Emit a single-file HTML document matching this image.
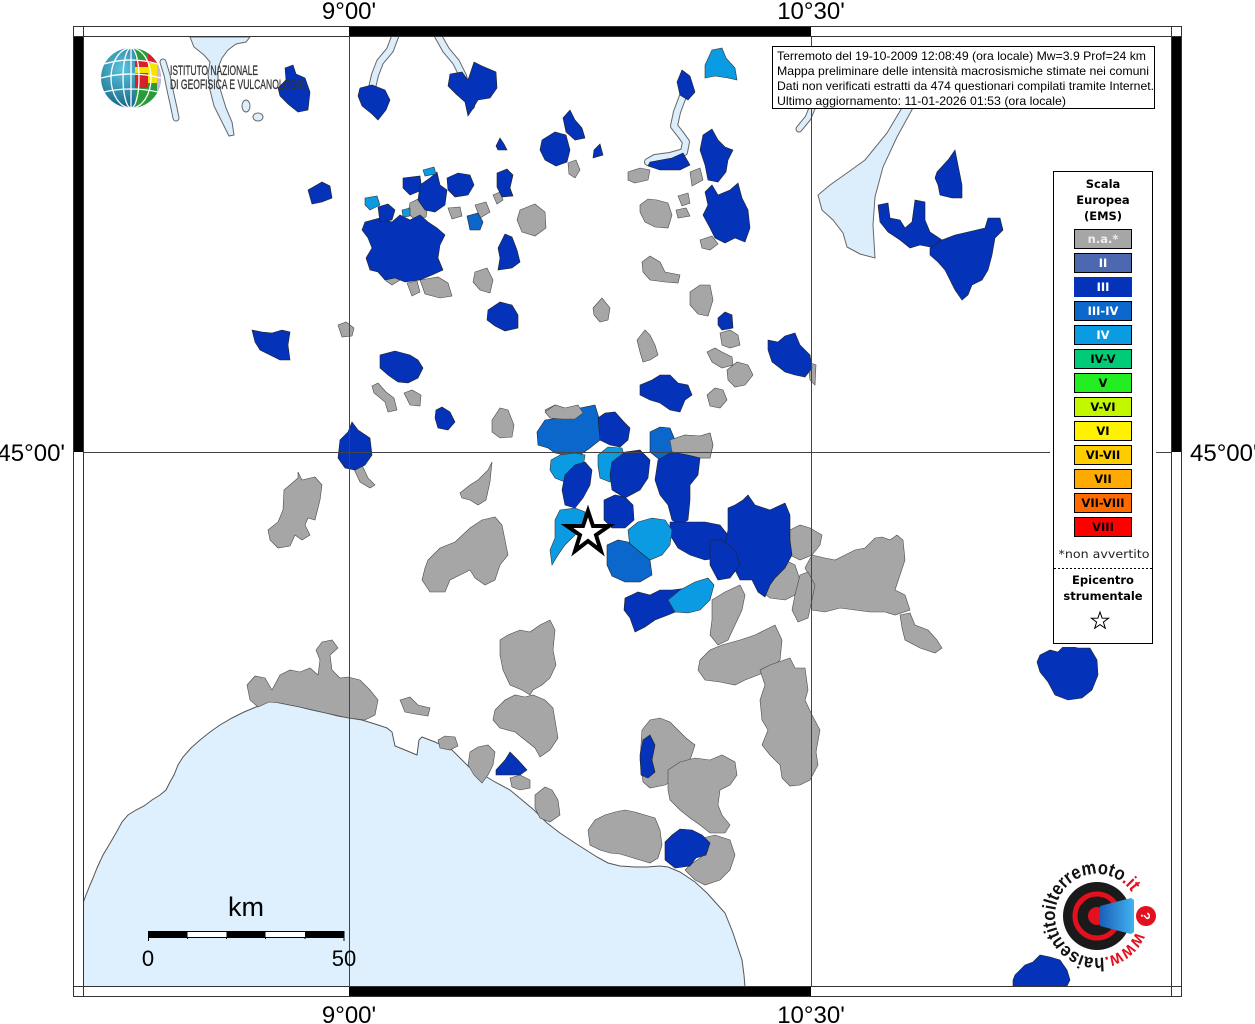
<!DOCTYPE html>
<html><head><meta charset="utf-8"><style>
html,body{margin:0;padding:0;background:#fff;}
svg{display:block;}
.g{fill:#a6a6a6;stroke:#4a4a4a;stroke-width:.6}
.b{fill:#0433b9;stroke:#222;stroke-width:.6}
.m{fill:#0b67cc;stroke:#222;stroke-width:.6}
.l{fill:#0b9be3;stroke:#333;stroke-width:.6}
.lk{fill:#dcedfb;stroke:#666;stroke-width:1}
.tk{font-family:"Liberation Sans",sans-serif;font-size:24px;fill:#000}
.lg{font-family:"DejaVu Sans","Liberation Sans",sans-serif;font-weight:bold;font-size:11.5px;text-anchor:middle}
</style></head><body>
<svg width="1255" height="1024" viewBox="0 0 1255 1024" xmlns="http://www.w3.org/2000/svg">
<defs>
<clipPath id="mc"><rect x="83.5" y="36.5" width="1088" height="950"/></clipPath>
<clipPath id="gc"><circle cx="131" cy="78" r="30"/></clipPath>
<radialGradient id="gg" cx="0.35" cy="0.35" r="0.75"><stop offset="0" stop-color="#5cc4de"/><stop offset="1" stop-color="#0a5a7a"/></radialGradient>
<linearGradient id="cone" x1="0" y1="0" x2="1" y2="0"><stop offset="0" stop-color="#1b5fb8"/><stop offset="1" stop-color="#3fb4f0"/></linearGradient>
</defs>
<rect width="1255" height="1024" fill="#fff"/>

<g clip-path="url(#mc)">
<polygon fill="#def0fd" stroke="#555" stroke-width="1" points="83,903 86,895 90,885 93,878 97,868 103,855 109,845 116,833 122,822 128,815 136,810 144,806 152,800 160,795 166,790 170,782 174,775 178,765 183,757 191,748 200,740 210,732 220,725 232,718 244,712 256,707 264,703 270,701 280,703 290,705 300,707 312,710 326,713 338,716 349,718 362,720 375,724 387,728 392,732 395,746 405,750 417,755 419,740 422,737 435,742 452,750 462,760 469,767 480,773 495,782 510,790 522,800 534,810 547,823 560,833 575,843 586,850 597,857 608,863 620,866 635,867 647,867 660,866 668,867 680,872 695,882 707,893 716,903 725,913 733,933 738,948 742,960 744,975 745,987 745,995 75,995 75,903"/>

<polygon class="lk" points="190,37 250,37 246,42 236,44 228,50 222,58 218,68 218,82 222,95 226,108 232,122 234,135 229,136 222,122 214,106 210,90 208,74 210,62 204,55 194,47"/>
<g fill="none" stroke-linecap="round" stroke-linejoin="round">
<path d="M163,62 L167,75 L170,90 L174,108 L176,118" stroke="#666" stroke-width="7"/>
<path d="M163,62 L167,75 L170,90 L174,108 L176,118" stroke="#dcedfb" stroke-width="5"/>
<path d="M396,34 L390,50 L380,62 L375,75 L372,88" stroke="#666" stroke-width="8"/>
<path d="M396,34 L390,50 L380,62 L375,75 L372,88" stroke="#dcedfb" stroke-width="6"/>
<path d="M437,34 L446,50 L456,62 L463,76 L467,92 L471,106" stroke="#666" stroke-width="8"/>
<path d="M437,34 L446,50 L456,62 L463,76 L467,92 L471,106" stroke="#dcedfb" stroke-width="6"/>
<path d="M683,96 L677,112 L674,126 L681,135 L686,142 L684,152 L670,156 L655,158 L648,162" stroke="#666" stroke-width="8"/>
<path d="M683,96 L677,112 L674,126 L681,135 L686,142 L684,152 L670,156 L655,158 L648,162" stroke="#dcedfb" stroke-width="6"/>
<path d="M813,106 L808,118 L799,129" stroke="#666" stroke-width="7"/>
<path d="M813,106 L808,118 L799,129" stroke="#dcedfb" stroke-width="5"/>
</g>
<ellipse class="lk" cx="246" cy="106" rx="4" ry="6"/>
<ellipse class="lk" cx="258" cy="117" rx="5" ry="4"/>
<polygon class="lk" points="903,106 914,106 897,137 883,167 875,197 873,225 875,258 860,254 847,247 843,233 833,220 822,210 818,195 830,185 847,173 865,160 887,133"/>

<g class="g">
<polygon points="568,163 576,160 580,170 575,178 569,174"/>
<polygon points="628,172 640,168 650,170 648,180 635,183 628,180"/>
<polygon points="690,172 700,168 703,180 692,186"/>
<polygon points="700,240 712,236 718,244 710,250 702,248"/>
<polygon points="640,205 648,199 657,200 668,203 672,215 668,228 655,227 645,222 640,212"/>
<polygon points="678,196 688,193 690,203 682,206"/>
<polygon points="676,210 686,208 690,216 678,218"/>
<polygon points="642,262 650,256 660,262 665,272 680,275 678,283 665,282 650,280 643,272"/>
<polygon points="690,292 700,285 710,285 713,300 708,316 698,314 690,305"/>
<polygon points="593,308 602,298 610,308 608,320 600,322 594,315"/>
<polygon points="410,203 420,198 428,205 426,217 415,220 408,213"/>
<polygon points="448,208 460,207 462,216 452,219"/>
<polygon points="475,205 486,202 490,212 480,218"/>
<polygon points="493,195 500,192 503,200 497,204"/>
<polygon points="520,210 535,204 545,212 546,228 535,236 522,232 517,220"/>
<polygon points="475,272 487,268 493,280 490,293 480,290 473,282"/>
<polygon points="420,280 438,277 448,283 452,296 440,298 425,294"/>
<polygon points="407,283 417,281 420,292 412,296"/>
<polygon points="385,273 396,271 400,280 392,285 386,281"/>
<polygon points="338,325 346,322 354,328 352,336 342,337"/>
<polygon points="372,386 378,383 386,392 394,398 397,410 388,412 385,402 374,393"/>
<polygon points="404,393 412,390 421,395 420,406 410,405"/>
<polygon points="492,420 500,408 508,410 514,425 512,437 500,438 492,432"/>
<polygon points="353,467 362,465 368,478 375,485 370,488 360,482"/>
<polygon points="284,490 298,478 298,472 302,480 315,477 322,485 320,500 315,520 308,518 305,525 310,535 302,540 295,535 290,546 278,548 270,540 268,530 278,522 283,510"/>
<polygon points="460,493 470,485 478,480 488,470 492,462 490,482 486,500 478,505 470,500 462,498"/>
<polygon points="428,560 440,548 455,542 470,528 482,520 495,517 502,525 505,540 508,555 500,565 495,580 485,585 475,578 470,570 460,575 450,580 445,592 430,592 422,580 425,568"/>
<polygon points="637,340 645,330 650,335 655,345 658,355 650,360 643,362 640,352"/>
<polygon points="720,333 730,330 738,335 740,345 730,348 722,345"/>
<polygon points="707,352 715,348 722,352 732,357 733,365 722,368 712,362"/>
<polygon points="727,370 737,362 748,365 753,375 745,385 735,387 728,380"/>
<polygon points="707,395 715,388 723,390 727,400 720,408 710,406"/>
<polygon points="808,362 816,365 815,385 810,380"/>
<polygon points="545,410 555,405 565,408 578,406 583,415 575,420 562,420 550,418"/>
<polygon points="670,440 685,435 700,436 710,433 713,445 710,458 695,458 682,455 672,452"/>
<polygon points="790,530 800,525 810,528 822,535 820,545 812,555 800,560 790,555 788,542"/>
<polygon points="770,560 785,560 795,565 800,580 795,595 785,600 770,598 760,590 762,575"/>
<polygon points="812,555 825,558 835,560 845,555 855,550 865,548 875,538 882,537 890,540 897,535 903,540 905,560 900,575 895,590 905,595 910,610 895,615 885,612 870,612 855,610 840,608 825,612 812,610 808,595 812,580 805,568"/>
<polygon points="800,575 808,572 815,585 812,600 808,618 798,622 792,610 795,595"/>
<polygon points="900,615 910,613 915,625 928,630 937,640 942,648 935,653 920,648 905,640 902,628"/>
<polygon points="712,600 725,592 740,585 745,595 742,610 735,625 728,640 718,645 710,635 712,620"/>
<polygon points="700,660 710,650 722,645 740,640 755,635 765,630 775,625 782,640 780,660 770,670 758,675 745,680 735,685 720,682 705,680 698,670"/>
<polygon points="760,670 770,665 790,658 795,668 805,668 808,690 805,700 812,715 820,730 816,752 818,765 810,780 800,785 790,786 782,778 780,765 770,755 762,745 768,730 762,720 760,700 765,685"/>
<polygon points="642,730 650,720 660,718 670,722 678,730 686,738 695,745 690,760 682,770 675,780 665,785 650,788 643,782 640,760"/>
<polygon points="668,770 680,762 695,758 710,760 722,755 735,762 737,775 730,785 720,790 718,805 722,815 730,825 725,833 710,833 700,825 690,818 680,810 670,800 668,790"/>
<polygon points="695,840 715,835 730,840 735,855 730,870 720,880 705,885 695,880 685,870 690,865 700,858 708,850"/>
<polygon points="588,830 595,820 605,815 615,812 625,810 635,812 645,815 655,818 660,830 662,845 658,858 650,863 640,860 630,857 620,854 610,853 600,850 590,845"/>
<polygon points="247,685 255,676 265,678 272,690 280,675 290,670 300,672 310,668 318,675 320,660 316,650 322,642 332,640 338,648 330,655 332,670 340,678 348,677 360,680 370,690 378,700 375,715 365,720 349,718 326,713 300,707 280,703 269,702 258,707 250,700"/>
<polygon points="400,700 410,697 418,705 430,708 428,716 415,714 405,712"/>
<polygon points="438,740 445,736 455,737 458,746 450,750 440,748"/>
<polygon points="470,752 478,747 488,745 495,752 493,765 488,775 482,783 474,775 468,765"/>
<polygon points="510,778 520,775 530,780 530,788 520,790 512,787"/>
<polygon points="535,795 545,787 552,790 558,800 560,815 550,822 540,818 535,808"/>
<polygon points="500,640 508,635 520,630 530,632 540,625 550,620 555,630 553,650 556,665 550,678 542,685 533,690 530,695 522,690 510,685 503,670 500,655"/>
<polygon points="495,710 505,700 515,695 525,697 533,695 545,700 553,708 555,720 558,738 550,750 540,757 535,748 525,740 515,732 500,728 493,720"/>
</g>

<g>
<polygon class="b" points="285,68 293,65 296,74 305,78 310,92 308,110 298,112 288,104 280,96 278,88 286,80"/>
<polygon class="b" points="360,88 372,85 385,90 390,100 386,110 378,120 372,114 362,106 358,96"/>
<polygon class="b" points="450,74 462,72 468,80 474,62 482,66 496,72 497,88 490,98 478,100 472,110 468,116 465,102 456,94 448,86"/>
<polygon class="b" points="542,140 555,132 566,135 570,150 567,162 556,166 545,160 540,150"/>
<polygon class="b" points="563,118 570,110 575,120 582,128 585,138 575,140 566,132"/>
<polygon class="b" points="594,150 600,144 603,155 593,158"/>
<polygon class="b" points="496,146 500,138 504,144 507,150 498,150"/>
<polygon class="b" points="677,82 682,70 690,76 695,92 688,100 680,95"/>
<polygon class="l" points="705,65 712,50 722,48 726,58 735,68 737,80 728,78 715,76 705,78"/>
<polygon class="b" points="650,162 672,158 683,153 690,165 680,170 660,170 648,166"/>
<polygon class="b" points="703,135 712,129 718,140 725,147 733,150 728,160 726,172 718,182 708,180 705,165 700,150"/>
<polygon class="b" points="705,192 712,185 718,195 730,190 738,183 742,198 748,210 750,228 745,242 735,238 725,243 715,238 710,228 703,215 708,205"/>
<polygon class="b" points="308,190 322,182 330,186 332,198 322,202 312,204"/>
<polygon class="b" points="365,222 380,218 392,222 400,215 410,220 420,215 428,222 437,228 445,235 440,245 438,258 443,270 432,275 420,280 405,282 395,278 385,280 378,272 370,270 366,258 372,248 368,238 362,230"/>
<polygon class="b" points="378,207 388,204 395,210 392,220 380,222"/>
<polygon class="b" points="403,178 420,176 422,190 410,195 403,188"/>
<polygon class="b" points="420,185 430,178 437,172 440,185 447,190 445,205 435,212 425,210 418,200"/>
<polygon class="b" points="447,178 458,173 470,175 474,185 468,195 455,197 448,190"/>
<polygon class="l" points="365,198 377,196 380,205 370,210 365,205"/>
<polygon class="l" points="423,170 434,167 436,174 425,176"/>
<polygon class="l" points="402,210 410,208 410,216 403,217"/>
<polygon class="m" points="467,216 478,213 483,222 480,230 470,230"/>
<polygon class="b" points="497,173 507,169 513,175 510,188 513,196 502,197 497,187"/>
<polygon class="b" points="498,248 505,234 512,237 517,250 520,262 512,268 498,270 500,258"/>
<polygon class="b" points="937,172 948,160 955,150 958,165 962,185 962,198 952,198 940,195 938,185 935,178"/>
<polygon class="b" points="878,205 888,203 890,218 900,220 905,228 912,222 915,200 925,202 925,220 930,232 942,240 945,247 935,248 920,245 910,248 900,240 888,232 880,222"/>
<polygon class="b" points="930,248 942,240 955,235 968,232 985,228 988,218 1000,218 1003,230 995,238 992,255 988,270 982,280 972,285 968,295 962,300 955,290 950,280 945,270 938,262 930,255"/>
<polygon class="b" points="252,330 262,332 272,333 282,330 290,332 288,345 290,360 280,360 270,355 260,350 255,342"/>
<polygon class="b" points="380,355 395,351 410,355 418,360 423,368 418,378 408,383 398,382 388,375 380,368"/>
<polygon class="b" points="436,410 442,407 450,412 455,422 448,430 438,428 435,418"/>
<polygon class="b" points="488,310 500,302 512,305 518,315 518,328 505,331 495,326 487,320"/>
<polygon class="b" points="340,440 348,432 352,422 358,430 370,438 372,455 365,465 355,470 345,468 338,458"/>
<polygon class="b" points="768,340 778,342 785,336 795,333 800,345 810,355 812,368 805,377 795,375 785,372 780,368 772,362 768,350"/>
<polygon class="b" points="718,318 725,312 732,315 733,328 722,330 718,325"/>
<polygon class="b" points="640,385 652,380 660,375 670,375 678,383 688,385 692,395 685,400 680,412 670,410 660,403 650,400 640,395"/>
<polygon class="m" points="537,432 545,420 560,418 570,410 585,407 595,405 598,415 602,425 600,440 590,448 580,455 565,455 555,453 548,448 538,445"/>
<polygon class="g" points="545,412 555,405 565,408 578,405 583,413 575,419 562,419 550,418"/>
<polygon class="b" points="598,418 605,413 615,412 624,422 630,428 628,440 620,447 610,445 600,440"/>
<polygon class="m" points="650,432 660,427 670,428 675,440 680,450 672,458 660,460 650,452"/>
<polygon class="g" points="670,440 685,435 700,436 710,433 713,445 710,458 695,458 682,455 672,452"/>
<polygon class="l" points="551,460 560,455 575,453 585,455 583,468 578,478 565,482 555,478 550,470"/>
<polygon class="l" points="598,455 608,447 622,448 626,462 620,475 610,482 600,478 598,466"/>
<polygon class="b" points="565,475 575,465 585,462 592,470 590,485 583,498 575,508 565,505 562,490"/>
<polygon class="b" points="612,462 625,452 640,450 650,460 648,478 640,490 625,498 612,490 610,475"/>
<polygon class="b" points="604,500 615,495 625,497 633,505 634,520 625,528 612,528 604,520"/>
<polygon class="l" points="555,520 560,510 575,508 585,512 583,525 575,535 565,545 558,555 552,565 550,550 555,538"/>
<polygon class="b" points="658,460 672,452 688,455 700,458 698,475 690,485 690,500 688,520 680,525 672,520 668,505 660,495 655,480"/>
<polygon class="b" points="670,522 690,522 705,522 720,525 728,535 728,550 718,558 705,560 690,555 678,548 670,535"/>
<polygon class="b" points="728,508 735,505 743,500 748,495 755,505 770,510 785,503 790,515 790,540 792,555 785,568 775,578 770,585 765,597 758,592 752,580 740,580 735,570 728,560 725,545 728,530"/>
<polygon class="b" points="710,540 722,540 735,550 740,565 730,578 718,580 710,565"/>
<polygon class="l" points="628,530 638,522 652,518 665,520 672,530 670,545 662,555 650,560 640,555 630,548"/>
<polygon class="m" points="607,545 618,540 628,542 640,552 650,560 652,575 640,582 625,582 612,576 607,565"/>
<polygon class="b" points="625,598 638,592 650,595 660,590 672,590 688,588 690,600 680,610 668,615 655,620 645,627 635,632 630,618 624,610"/>
<polygon class="l" points="668,600 680,590 695,582 708,578 714,585 710,600 700,610 688,613 675,612"/>
<polygon class="b" points="643,740 650,735 655,745 652,760 655,772 648,778 641,775 640,755"/>
<polygon class="b" points="665,842 672,835 680,829 692,830 702,835 710,843 706,855 696,858 690,866 675,868 665,860"/>
<polygon class="b" points="496,770 505,760 510,752 518,760 527,770 520,775 505,775 496,775"/>
<polygon class="b" points="1040,655 1050,650 1058,652 1065,645 1078,648 1090,648 1097,660 1098,675 1092,690 1082,698 1068,700 1055,695 1048,682 1040,672 1037,662"/>
<polygon class="b" points="1015,975 1025,965 1033,962 1040,955 1050,957 1060,960 1067,970 1070,980 1065,990 1013,990 1013,980"/>
</g>

<g stroke="#444" stroke-width="1">
<line x1="349.5" y1="36" x2="349.5" y2="987"/>
<line x1="811.5" y1="36" x2="811.5" y2="987"/>
<line x1="83" y1="452.5" x2="1172" y2="452.5"/>
</g>

<polygon points="588,511 593,526 609,526 596,535 601,551 588,541 575,551 580,535 567,526 583,526" fill="#fff" stroke="#000" stroke-width="4" stroke-linejoin="miter"/>
</g>

<rect x="349" y="27" width="462" height="9" fill="#000"/>
<rect x="349" y="987" width="462" height="9" fill="#000"/>
<rect x="74" y="36" width="9" height="416" fill="#000"/>
<rect x="1172" y="36" width="9" height="416" fill="#000"/>
<g stroke="#333" stroke-width="1" fill="none">
<line x1="73" y1="26.5" x2="1182" y2="26.5"/>
<line x1="73" y1="36.5" x2="1182" y2="36.5"/>
<line x1="73" y1="986.5" x2="1182" y2="986.5"/>
<line x1="73" y1="996.5" x2="1182" y2="996.5"/>
<line x1="73.5" y1="26" x2="73.5" y2="997"/>
<line x1="83.5" y1="26" x2="83.5" y2="997"/>
<line x1="1171.5" y1="26" x2="1171.5" y2="997"/>
<line x1="1181.5" y1="26" x2="1181.5" y2="997"/>
</g>

<text class="tk" x="349" y="19" text-anchor="middle">9°00'</text>
<text class="tk" x="811" y="19" text-anchor="middle">10°30'</text>
<text class="tk" x="349" y="1023" text-anchor="middle">9°00'</text>
<text class="tk" x="811" y="1023" text-anchor="middle">10°30'</text>
<text class="tk" x="65" y="461" text-anchor="end">45°00'</text>
<text class="tk" x="1190" y="461">45°00'</text>

<g>
<circle cx="131" cy="78" r="30" fill="url(#gg)"/>
<g clip-path="url(#gc)">
<rect x="135" y="46" width="13" height="14" fill="#2a9a3a"/>
<rect x="135" y="60" width="13" height="7" fill="#d8202a"/>
<rect x="135" y="67" width="13" height="6" fill="#f4e600"/>
<rect x="135" y="73" width="13" height="15" fill="#d8202a"/>
<rect x="135" y="88" width="13" height="22" fill="#2a9a3a"/>
<rect x="148" y="46" width="9" height="17" fill="#d8202a"/>
<rect x="148" y="63" width="9" height="20" fill="#f4e600"/>
<rect x="148" y="83" width="9" height="27" fill="#2a9a3a"/>
<rect x="157" y="46" width="8" height="64" fill="#c9b9d6"/>
<g fill="none" stroke="#fff" stroke-width="1.3">
<ellipse cx="131" cy="78" rx="8" ry="30"/>
<ellipse cx="131" cy="78" rx="20" ry="30"/>
<path d="M101,78 Q131,70 161,78"/>
<path d="M104,64 Q131,56 158,64"/>
<path d="M104,92 Q131,86 158,92"/>
<line x1="131" y1="48" x2="131" y2="108"/>
</g>
</g>
<text x="170" y="75" font-family="'Liberation Sans',sans-serif" font-size="13.5" fill="#333" stroke="#333" stroke-width="0.3" textLength="88" lengthAdjust="spacingAndGlyphs">ISTITUTO NAZIONALE</text>
<text x="170" y="89" font-family="'Liberation Sans',sans-serif" font-size="13.5" fill="#333" stroke="#333" stroke-width="0.3" textLength="135" lengthAdjust="spacingAndGlyphs">DI GEOFISICA E VULCANOLOGIA</text>
</g>

<rect x="772.5" y="46.5" width="382" height="62" fill="#fff" stroke="#000" stroke-width="1"/>
<g font-family="'Liberation Sans',sans-serif" font-size="12" fill="#000">
<text x="777" y="60" textLength="369" lengthAdjust="spacingAndGlyphs">Terremoto del 19-10-2009 12:08:49 (ora locale) Mw=3.9 Prof=24 km</text>
<text x="777" y="75" textLength="372" lengthAdjust="spacingAndGlyphs">Mappa preliminare delle intensità macrosismiche stimate nei comuni</text>
<text x="777" y="90" textLength="377" lengthAdjust="spacingAndGlyphs">Dati non verificati estratti da 474 questionari compilati tramite Internet.</text>
<text x="777" y="105" textLength="289" lengthAdjust="spacingAndGlyphs">Ultimo aggiornamento: 11-01-2026 01:53 (ora locale)</text>
</g>

<rect x="1050" y="168" width="106" height="479" fill="#fff"/>
<rect x="1053.5" y="171.5" width="99" height="472" fill="#fff" stroke="#000" stroke-width="1"/>
<g class="lg" fill="#000">
<text x="1103" y="188">Scala</text>
<text x="1103" y="204">Europea</text>
<text x="1103" y="220">(EMS)</text>
</g>
<g stroke="#000" stroke-width="1">
<rect x="1074.5" y="229.5" width="57" height="19" fill="#a6a6a6"/>
<rect x="1074.5" y="253.5" width="57" height="19" fill="#4c68b0"/>
<rect x="1074.5" y="277.5" width="57" height="19" fill="#0433b9" stroke="#0433b9"/>
<rect x="1074.5" y="301.5" width="57" height="19" fill="#0b67cc"/>
<rect x="1074.5" y="325.5" width="57" height="19" fill="#0b9be3"/>
<rect x="1074.5" y="349.5" width="57" height="19" fill="#00cc77"/>
<rect x="1074.5" y="373.5" width="57" height="19" fill="#22ee22"/>
<rect x="1074.5" y="397.5" width="57" height="19" fill="#c2f700"/>
<rect x="1074.5" y="421.5" width="57" height="19" fill="#fff200"/>
<rect x="1074.5" y="445.5" width="57" height="19" fill="#ffcc00"/>
<rect x="1074.5" y="469.5" width="57" height="19" fill="#ffaa00"/>
<rect x="1074.5" y="493.5" width="57" height="19" fill="#ff6a00"/>
<rect x="1074.5" y="517.5" width="57" height="19" fill="#ff0000"/>
</g>
<g class="lg">
<text x="1103" y="243" fill="#eee">n.a.*</text>
<text x="1103" y="267" fill="#fff">II</text>
<text x="1103" y="291" fill="#fff">III</text>
<text x="1103" y="315" fill="#fff">III-IV</text>
<text x="1103" y="339" fill="#fff">IV</text>
<text x="1103" y="363" fill="#000">IV-V</text>
<text x="1103" y="387" fill="#000">V</text>
<text x="1103" y="411" fill="#000">V-VI</text>
<text x="1103" y="435" fill="#000">VI</text>
<text x="1103" y="459" fill="#000">VI-VII</text>
<text x="1103" y="483" fill="#000">VII</text>
<text x="1103" y="507" fill="#000">VII-VIII</text>
<text x="1103" y="531" fill="#000">VIII</text>
</g>
<text x="1104" y="558" font-family="'DejaVu Sans','Liberation Sans',sans-serif" font-size="11.5" text-anchor="middle" fill="#222" textLength="91" lengthAdjust="spacingAndGlyphs">*non avvertito</text>
<line x1="1054" y1="568.5" x2="1152" y2="568.5" stroke="#000" stroke-width="1" stroke-dasharray="2,2"/>
<g class="lg" fill="#000">
<text x="1103" y="584">Epicentro</text>
<text x="1103" y="600">strumentale</text>
</g>
<polygon points="1100,612 1102.1,618.1 1108.6,618.2 1103.4,622.1 1105.3,628.3 1100,624.6 1094.7,628.3 1096.6,622.1 1091.4,618.2 1097.9,618.1" fill="#fff" stroke="#000" stroke-width="1"/>

<text x="246" y="916" font-family="'Liberation Sans',sans-serif" font-size="27" text-anchor="middle" fill="#000">km</text>
<rect x="148.5" y="931.5" width="195.5" height="6" fill="#fff" stroke="#000" stroke-width="1"/>
<rect x="148.5" y="931.5" width="39" height="6" fill="#000"/>
<rect x="226.5" y="931.5" width="39" height="6" fill="#000"/>
<rect x="305" y="931.5" width="39" height="6" fill="#000"/>
<g stroke="#000" stroke-width="1">
<line x1="148.5" y1="931" x2="148.5" y2="941"/>
<line x1="344" y1="931" x2="344" y2="941"/>
<line x1="187.5" y1="937" x2="187.5" y2="939"/>
<line x1="226.5" y1="937" x2="226.5" y2="939"/>
<line x1="265.5" y1="937" x2="265.5" y2="939"/>
<line x1="305" y1="937" x2="305" y2="939"/>
</g>
<text x="148" y="966" font-family="'Liberation Sans',sans-serif" font-size="22" text-anchor="middle" fill="#000">0</text>
<text x="344" y="966" font-family="'Liberation Sans',sans-serif" font-size="22" text-anchor="middle" fill="#000">50</text>

<g>
<circle cx="1097" cy="916" r="34" fill="#1a1a1a"/>
<circle cx="1097" cy="916" r="22" fill="none" stroke="#e3101e" stroke-width="5"/>
<circle cx="1097" cy="916" r="9" fill="#e3101e"/>
<polygon points="1100,906 1131,898 1134,900 1134,932 1131,934 1100,926" fill="url(#cone)"/>
<circle cx="1146" cy="916" r="10" fill="#e3101e"/>
<text x="1146" y="921" font-family="'Liberation Sans',sans-serif" font-size="13" font-weight="bold" fill="#fff" text-anchor="middle" transform="rotate(90 1146 916)">?</text>
<path id="arc" d="M1135.9,931.7 A42,42 0 1 1 1135.1,898.3" fill="none"/>
<text font-family="'Liberation Sans',sans-serif" font-size="19" font-weight="bold" fill="#111"><textPath href="#arc" textLength="222" lengthAdjust="spacingAndGlyphs"><tspan fill="#e3101e">www.</tspan>haisentitoilterremoto<tspan fill="#e3101e">.it</tspan></textPath></text>
</g>
</svg>
</body></html>
